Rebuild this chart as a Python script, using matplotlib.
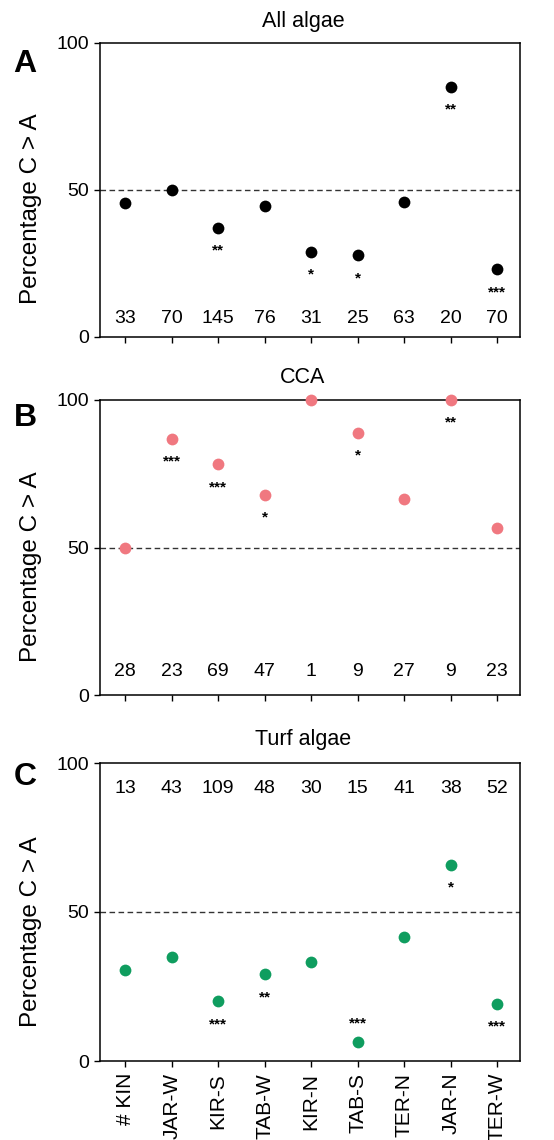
import numpy as np
import matplotlib
matplotlib.use("Agg")
import matplotlib.pyplot as plt

plt.rcParams['font.family'] = ['Liberation Sans', 'DejaVu Sans']

# 站点名称 (x轴标签)
sites = ['# KIN', 'JAR-W', 'KIR-S', 'TAB-W', 'KIR-N', 'TAB-S', 'TER-N', 'JAR-N', 'TER-W']

# A: 全部藻类
all_pct = [45.5, 50, 37.2, 44.7, 29, 27.8, 46, 85.1, 23]
all_n = [33, 70, 145, 76, 31, 25, 63, 20, 70]
all_sig = ['', '', '**', '', '*', '*', '', '**', '***']

# B: CCA
cca_pct = [50, 86.9, 78.2, 67.9, 100, 88.9, 66.6, 100, 56.5]
cca_n = [28, 23, 69, 47, 1, 9, 27, 9, 23]
cca_sig = ['', '***', '***', '*', '', '*', '', '**', '']

# C: 草皮藻
turf_pct = [30.7, 34.9, 20.1, 29.1, 33.3, 6.5, 41.5, 65.8, 19.2]
turf_n = [13, 43, 109, 48, 30, 15, 41, 38, 52]
turf_sig = ['', '', '***', '**', '', '***', '', '*', '***']
turf_sig_above = [False, False, False, False, False, True, False, False, False]

W, H = 554, 1140
fig = plt.figure(figsize=(W / 100, H / 100), dpi=100)

panels = [
    # (top px, bottom px, title, letter, values, n, sig, colour, n label y, title y, letter y)
    (43, 337, 'All algae', 'A', all_pct, all_n, all_sig, 'black', 6.3, 22, 64),
    (400, 695, 'CCA', 'B', cca_pct, cca_n, cca_sig, '#f07880', 7.9, 378, 418),
    (763, 1061, 'Turf algae', 'C', turf_pct, turf_n, turf_sig, '#0f9d5f', 91.6, 740, 777),
]

x = np.arange(len(sites))
left, right = 100, 520

for i, (top, bot, title, letter, vals, ns, sigs, col, ny, ty, ly) in enumerate(panels):
    ax = fig.add_axes([left / W, 1 - bot / H, (right - left) / W, (bot - top) / H])
    ax.axhline(50, color='#333333', lw=1, ls=(0, (4, 2.5)), zorder=1)
    ax.scatter(x, vals, s=72, color=col, zorder=3, clip_on=False, linewidths=0)

    for j in range(len(x)):
        ax.text(x[j], ny, str(ns[j]), ha='center', va='center', fontsize=14)
        if sigs[j]:
            above = (i == 2 and turf_sig_above[j])
            ax.annotate(sigs[j], (x[j], vals[j]), xytext=(0, 13 if above else -16.5),
                        textcoords='offset points', ha='center', va='center',
                        fontsize=11, fontweight='bold')

    ax.set_xlim(-0.54, 8.49)
    ax.set_ylim(0, 100)
    ax.set_yticks([0, 50, 100])
    ax.set_xticks(x)
    if i == 2:
        ax.set_xticklabels(sites, rotation=90)
    else:
        ax.set_xticklabels([])
    ax.tick_params(axis='both', direction='out', length=4, width=1, labelsize=14, pad=4)
    ax.tick_params(axis='x', labelsize=15, pad=4.5)
    for sp in ax.spines.values():
        sp.set_linewidth(1.1)
    ax.set_ylabel('Percentage C > A', fontsize=17.5)
    ax.yaxis.set_label_coords(-0.138, 0.435)

    fig.text(303 / W, 1 - ty / H, title, ha='center', va='center', fontsize=15.5)
    fig.text(25 / W, 1 - ly / H, letter, ha='center', va='center', fontsize=23, fontweight='bold')

fig.savefig('out.png', dpi=100)
